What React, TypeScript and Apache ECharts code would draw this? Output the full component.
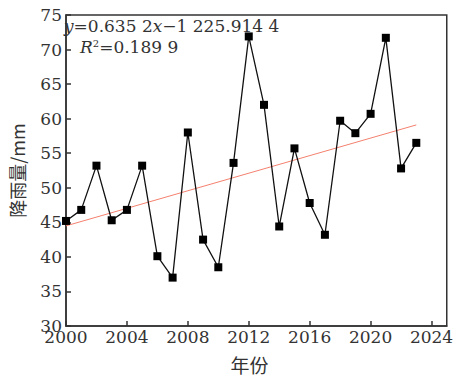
import React, { useEffect, useRef } from "react";
import * as echarts from "echarts";

const years = [2000, 2001, 2002, 2003, 2004, 2005, 2006, 2007, 2008, 2009, 2010, 2011, 2012, 2013, 2014, 2015, 2016, 2017, 2018, 2019, 2020, 2021, 2022, 2023];
const rainfall = [45.2, 46.8, 53.2, 45.3, 46.8, 53.2, 40.1, 37.0, 58.0, 42.5, 38.5, 53.6, 71.9, 62.0, 44.4, 55.7, 47.8, 43.2, 59.7, 57.9, 60.7, 71.7, 52.8, 56.5];
const slope = 0.6352;
const intercept = -1225.9144;
const trendYears = [2000, 2023];

const FONT = "DejaVu Serif";
const CJK = "Noto Sans CJK SC";

export default function App() {
  const ref = useRef<HTMLDivElement>(null);
  useEffect(() => {
    if (!ref.current) return;
    const chart = echarts.init(ref.current, undefined, { renderer: "svg" });
    const axisColor = "#333";
    chart.setOption({
      animation: false,
      backgroundColor: "#fff",
      textStyle: { fontFamily: FONT },
      grid: { left: 62, top: 15, right: 7, bottom: 52, show: true, borderColor: axisColor, borderWidth: 1.5 },
      xAxis: {
        type: "value",
        min: 2000,
        max: 2025,
        interval: 4,
        name: "年份",
        nameLocation: "middle",
        nameGap: 29,
        nameTextStyle: { fontFamily: CJK, fontSize: 19, color: "#333", padding: [0, 14, 0, 0] },
        axisLine: { lineStyle: { color: axisColor, width: 1.5 } },
        axisTick: { inside: true, length: 5, lineStyle: { color: axisColor, width: 1.5 } },
        axisLabel: {
          fontFamily: FONT, fontSize: 17, color: "#333", margin: 3, showMaxLabel: false,
          formatter: (v: number) => (v % 4 === 0 ? String(v) : ""),
        },
        splitLine: { show: false },
      },
      yAxis: {
        type: "value",
        min: 30,
        max: 75,
        interval: 5,
        name: "降雨量/mm",
        nameLocation: "middle",
        nameGap: 40,
        nameTextStyle: { fontFamily: CJK, fontSize: 18, color: "#333" },
        axisLine: { lineStyle: { color: axisColor, width: 1.5 } },
        axisTick: { inside: true, length: 5, lineStyle: { color: axisColor, width: 1.5 } },
        axisLabel: { fontFamily: FONT, fontSize: 17, color: "#333", margin: 4 },
        splitLine: { show: false },
      },
      series: [
        {
          type: "line",
          data: years.map((y, i) => [y, rainfall[i]]),
          symbol: "rect",
          symbolSize: 8,
          itemStyle: { color: "#000" },
          lineStyle: { color: "#111", width: 1.3 },
          z: 3,
        },
        {
          type: "line",
          data: trendYears.map((y) => [y, slope * y + intercept]),
          symbol: "none",
          lineStyle: { color: "#f4806e", width: 1 },
          z: 2,
        },
      ],
      graphic: [
        {
          type: "text",
          left: 64,
          top: 17,
          style: {
            text: "{i|y}{n|=0.635 2}{i|x}{n|−1 225.914 4}",
            rich: {
              i: { fontFamily: FONT, fontSize: 17, fontStyle: "italic", fill: "#333" },
              n: { fontFamily: FONT, fontSize: 17, fill: "#333" },
            },
          },
        },
        {
          type: "text",
          left: 80,
          top: 38,
          style: {
            text: "{i|R}{s|2}{n|=0.189 9}",
            rich: {
              i: { fontFamily: FONT, fontSize: 17, fontStyle: "italic", fill: "#333" },
              s: { fontFamily: FONT, fontSize: 10, fill: "#333", verticalAlign: "top", padding: [0, 0, 8, 0] },
              n: { fontFamily: FONT, fontSize: 17, fill: "#333" },
            },
          },
        },
      ],
    });
    return () => chart.dispose();
  }, []);
  return <div ref={ref} style={{ width: 456, height: 379, position: "absolute", left: 0, top: 0 }} />;
}
